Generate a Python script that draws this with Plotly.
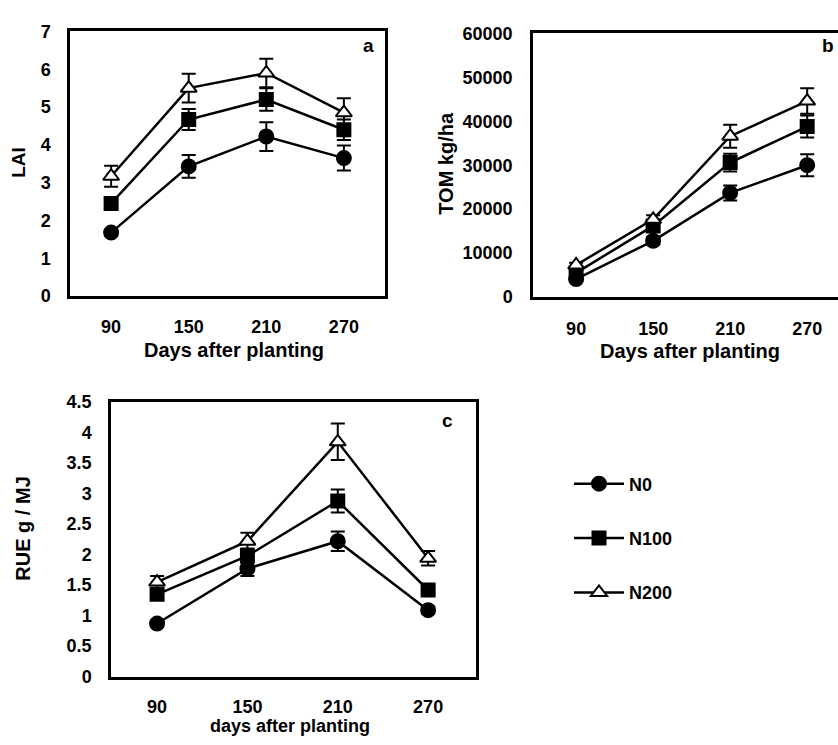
import plotly.graph_objects as go

days = ["90", "150", "210", "270"]
series_names = ["N0", "N100", "N200"]

lai_n0 = [1.68, 3.43, 4.22, 3.65]
lai_n0_err = [0.08, 0.30, 0.38, 0.33]
lai_n100 = [2.45, 4.67, 5.20, 4.40]
lai_n100_err = [0.08, 0.28, 0.30, 0.27]
lai_n200 = [3.17, 5.50, 5.90, 4.85]
lai_n200_err = [0.28, 0.38, 0.38, 0.38]

tdm_n0 = [4100, 12800, 23700, 30000]
tdm_n0_err = [600, 900, 1700, 2500]
tdm_n100 = [5500, 16200, 30600, 38800]
tdm_n100_err = [500, 900, 2000, 2500]
tdm_n200 = [7300, 17700, 36600, 44600]
tdm_n200_err = [500, 900, 2600, 2900]

rue_n0 = [0.87, 1.77, 2.22, 1.09]
rue_n0_err = [0.05, 0.12, 0.16, 0.06]
rue_n100 = [1.35, 1.98, 2.88, 1.42]
rue_n100_err = [0.06, 0.12, 0.19, 0.07]
rue_n200 = [1.55, 2.22, 3.85, 1.94]
rue_n200_err = [0.10, 0.14, 0.30, 0.12]

W, H = 838, 745
BOLD = "Liberation Sans"
NARROW = "Liberation Sans Narrow, Arial Narrow, Liberation Sans"

styles = [
    dict(symbol="circle", size=14, color="black"),
    dict(symbol="square", size=13, color="black"),
    dict(symbol="triangle-up", size=14, color="white"),
]

fig = go.Figure()

panels = [
    ("x", "y", [lai_n0, lai_n100, lai_n200], [lai_n0_err, lai_n100_err, lai_n200_err], False),
    ("x2", "y2", [tdm_n0, tdm_n100, tdm_n200], [tdm_n0_err, tdm_n100_err, tdm_n200_err], False),
    ("x3", "y3", [rue_n0, rue_n100, rue_n200], [rue_n0_err, rue_n100_err, rue_n200_err], True),
]

for xa, ya, vals, errs, show in panels:
    for i, (v, e) in enumerate(zip(vals, errs)):
        st = styles[i]
        fig.add_trace(go.Scatter(
            x=days, y=v, xaxis=xa, yaxis=ya,
            mode="lines+markers",
            name=series_names[i],
            legendgroup=series_names[i],
            showlegend=show,
            line=dict(color="black", width=2.5),
            marker=dict(symbol=st["symbol"], size=st["size"], color=st["color"],
                        line=dict(color="black", width=2)),
            error_y=dict(type="data", array=e, visible=True, color="black",
                         thickness=2, width=7),
        ))

def px_x(p):
    return p / W

def px_y(p):
    return 1 - p / H

axis_common = dict(showline=True, linecolor="black", linewidth=2.5, showgrid=False,
                   zeroline=False, ticks="", ticklen=0)

tf_ab = dict(family=NARROW, size=18, weight="bold")
tf_c = dict(family=BOLD, size=18, weight="bold")

fig.update_layout(
    width=W, height=H,
    margin=dict(l=0, r=0, t=0, b=0),
    paper_bgcolor="white", plot_bgcolor="white",
    font=dict(family=BOLD, size=18, color="black", weight="bold"),
    showlegend=True,
    legend=dict(x=px_x(569), y=px_y(468), xanchor="left", yanchor="top",
                font=dict(family=BOLD, size=18, weight="bold"),
                tracegroupgap=28, bgcolor="rgba(0,0,0,0)", itemwidth=50),
    xaxis=dict(domain=[px_x(70), px_x(385)], anchor="y", type="category",
               range=[-0.53, 3.53], mirror=True, tickfont=tf_ab,
               ticklabelstandoff=13, **axis_common),
    yaxis=dict(domain=[px_y(294), px_y(22)], anchor="x", range=[0, 7], dtick=1,
               mirror=True, tickfont=tf_ab, ticklabelstandoff=13, **axis_common),
    xaxis2=dict(domain=[px_x(533), 1.0], anchor="y2", type="category",
                range=[-0.56, 3.40], mirror=True, tickfont=tf_ab,
                ticklabelstandoff=14, **axis_common),
    yaxis2=dict(domain=[px_y(295), px_y(24)], anchor="x2", range=[0, 60000], dtick=10000,
                tickformat="d", mirror=False, tickfont=tf_ab, ticklabelstandoff=14,
                **axis_common),
    xaxis3=dict(domain=[px_x(111), px_x(476)], anchor="y3", type="category",
                range=[-0.51, 3.53], mirror=True, tickfont=tf_c,
                ticklabelstandoff=12, **axis_common),
    yaxis3=dict(domain=[px_y(685), px_y(403)], anchor="x3", range=[0, 4.5], dtick=0.5,
                mirror=True, tickfont=tf_c, ticklabelstandoff=13, **axis_common),
)

annots = [
    dict(text="LAI", x=px_x(19), y=px_y(157), textangle=-90, size=19),
    dict(text="TOM kg/ha", x=px_x(446), y=px_y(157), textangle=-90, size=20),
    dict(text="RUE g / MJ", x=px_x(23), y=px_y(533), textangle=-90, size=20),
    dict(text="Days after planting", x=px_x(234), y=px_y(349), textangle=0, size=20),
    dict(text="Days after planting", x=px_x(690), y=px_y(350), textangle=0, size=20),
    dict(text="days after planting", x=px_x(290), y=px_y(736), textangle=0, size=18),
    dict(text="a", x=px_x(368), y=px_y(36), textangle=0, size=19),
    dict(text="b", x=px_x(828), y=px_y(36), textangle=0, size=19),
    dict(text="c", x=px_x(447), y=px_y(422), textangle=0, size=19),
]
for a in annots:
    sz = a.pop("size")
    fig.add_annotation(xref="paper", yref="paper", xanchor="center", yanchor="middle",
                       showarrow=False, font=dict(family=BOLD, size=sz, weight="bold"), **a)

fig.write_html("out.html")
